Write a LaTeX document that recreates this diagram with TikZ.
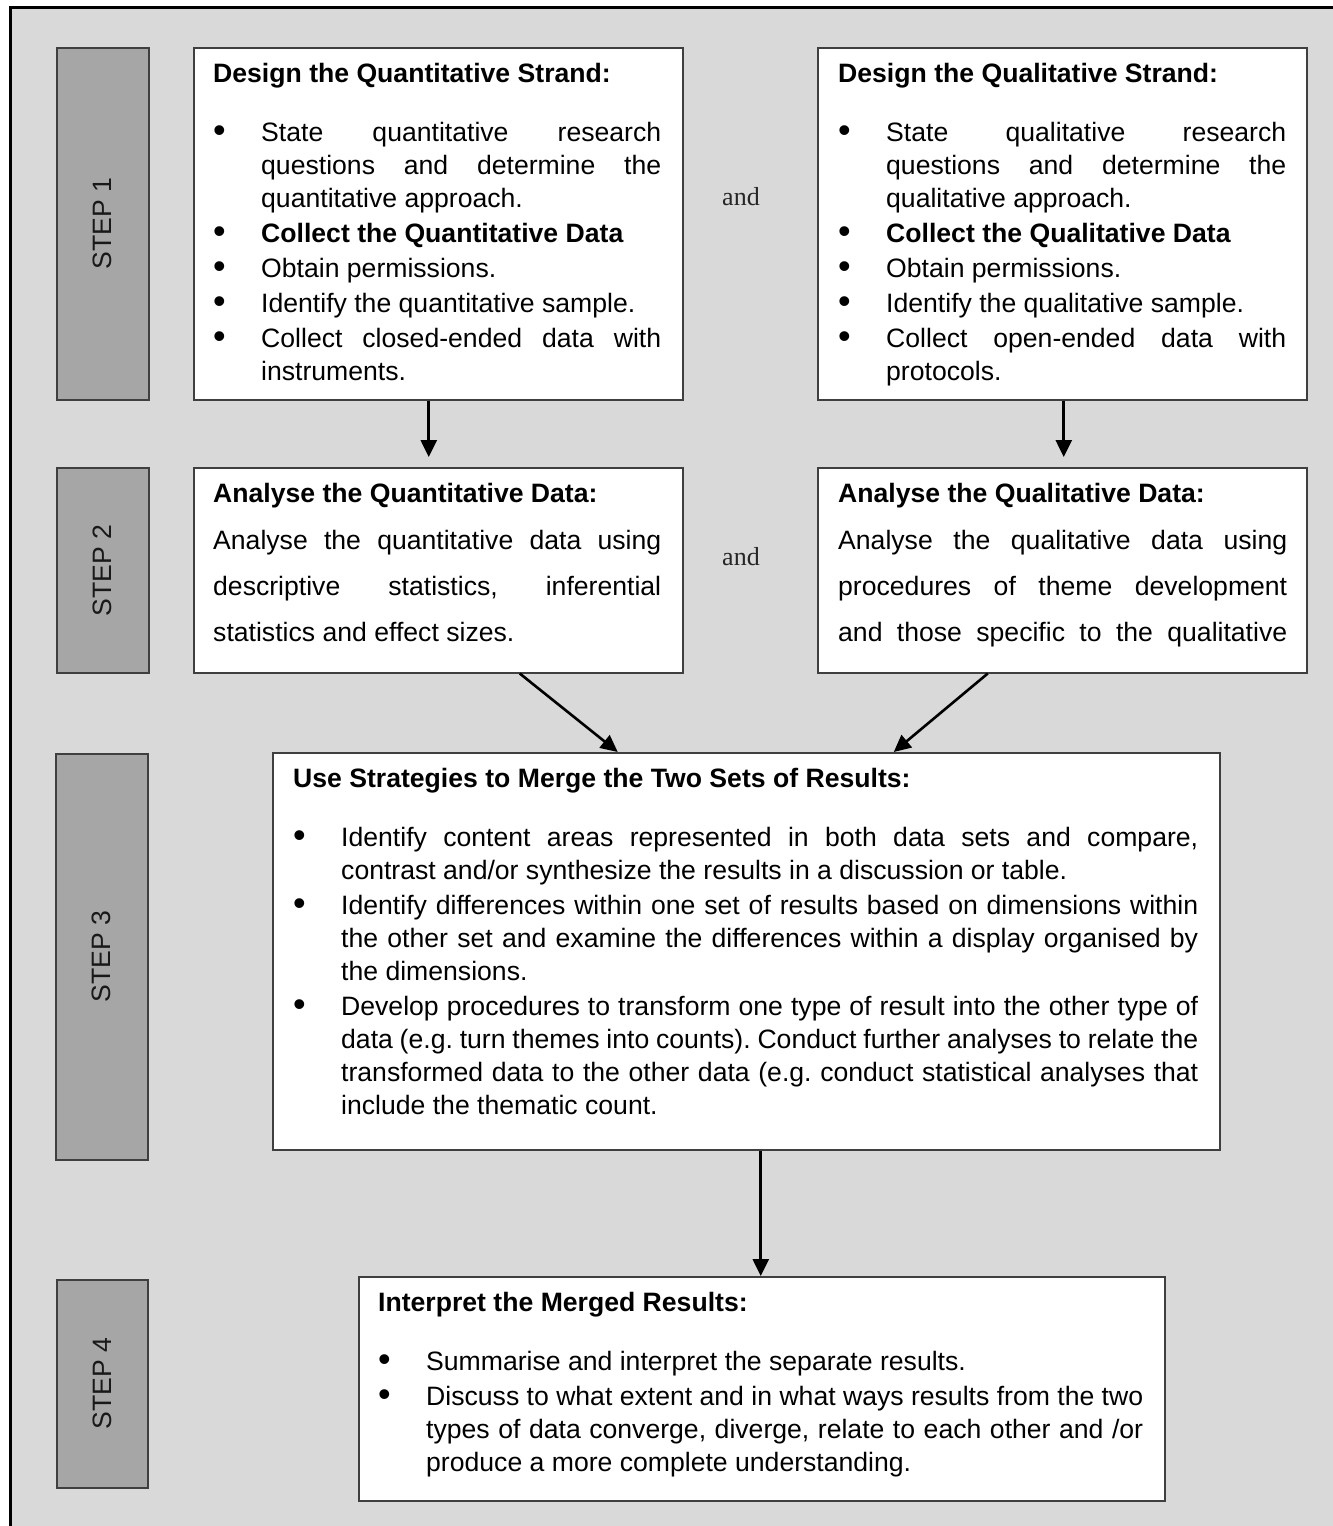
\documentclass[tikz,border=0pt]{standalone}
\usepackage{fontspec}
\usepackage{graphicx}
\setmainfont{Liberation Sans}
\newfontfamily\andfont{Liberation Serif}
\usetikzlibrary{arrows.meta,calc}
\definecolor{bg}{HTML}{D9D9D9}
\definecolor{stepfill}{HTML}{A6A6A6}
\definecolor{edge}{HTML}{3F3F3F}
\newcommand\bodysetup{\fontsize{26.6}{33}\selectfont\frenchspacing\tolerance=10000\hyphenpenalty=10000\exhyphenpenalty=10000\parskip=2pt\parindent=0pt\emergencystretch=0pt}
\newcommand\bitem[1]{\par\hangindent=48pt\hangafter=1\noindent\makebox[48pt][l]{\raisebox{-1pt}{\scalebox{1.35}{\textbullet}}}#1\par}
\tikzset{
 box/.style={draw=edge,line width=1.5pt,fill=white,inner sep=0pt,anchor=north west},
 stepbox/.style={draw=edge,line width=1.5pt,fill=stepfill,inner sep=0pt,anchor=north west},
 steplabel/.style={rotate=90,inner sep=0pt,font=\fontsize{26.6}{30}\selectfont,text=black!90},
 body/.style={anchor=base west,inner sep=0pt,align=justify},
 conn/.style={line width=2.6pt,-{Triangle[length=17pt,width=16pt]}},
 andlabel/.style={anchor=base,inner sep=0pt,font=\andfont\fontsize{26}{30}\selectfont,text=black!85}
}
\begin{document}
\begin{tikzpicture}[x=1pt,y=-1pt]
\useasboundingbox (0,0) rectangle (1333,1526);
\clip (0,0) rectangle (1333,1526);
\fill[bg] (10,7) rectangle (1345,1540);
\draw[line width=3pt] (10,1540) -- (10,7) -- (1345,7);

% step boxes
\node[stepbox,minimum width=92pt,minimum height=352pt] (s1) at (56,47) {};
\node[stepbox,minimum width=92pt,minimum height=205pt] (s2) at (56,467) {};
\node[stepbox,minimum width=92pt,minimum height=406pt] (s3) at (55,753) {};
\node[stepbox,minimum width=91pt,minimum height=208pt] (s4) at (56,1279) {};
\node[steplabel] (l1) at (s1.center) {STEP 1};
\node[steplabel] (l2) at (s2.center) {STEP 2};
\node[steplabel] (l3) at (s3.center) {STEP 3};
\node[steplabel] (l4) at (s4.center) {STEP 4};

% content boxes
\node[box,minimum width=489pt,minimum height=352pt] (q1) at (193,47) {};
\node[box,minimum width=489pt,minimum height=352pt] (q2) at (817,47) {};
\node[box,minimum width=489pt,minimum height=205pt] (a1) at (193,467) {};
\node[box,minimum width=489pt,minimum height=205pt] (a2) at (817,467) {};
\node[box,minimum width=947pt,minimum height=397pt] (m) at (272,752) {};
\node[box,minimum width=806pt,minimum height=224pt] (r) at (358,1276) {};

\node[body,text width=448pt] (q1t) at ($(q1.north west)+(20,35)$) {\bodysetup
\textbf{Design the Quantitative Strand:}\par\vspace{24pt}
\bitem{State quantitative research\linebreak questions and determine the\linebreak quantitative approach.}
\bitem{\textbf{Collect the Quantitative Data}}
\bitem{Obtain permissions.}
\bitem{Identify the quantitative sample.}
\bitem{Collect closed-ended data with\linebreak instruments.}};

\node[body,text width=448pt] (q2t) at ($(q2.north west)+(21,35)$) {\bodysetup
\textbf{Design the Qualitative Strand:}\par\vspace{24pt}
\bitem{State qualitative research\linebreak questions and determine the\linebreak qualitative approach.}
\bitem{\textbf{Collect the Qualitative Data}}
\bitem{Obtain permissions.}
\bitem{Identify the qualitative sample.}
\bitem{Collect open-ended data with\linebreak protocols.}};

\node[body,text width=448pt] (a1t) at ($(a1.north west)+(20,35)$) {\bodysetup
\textbf{Analyse the Quantitative Data:}\par
{\parskip=1pt\baselineskip=46pt Analyse the quantitative data using\linebreak descriptive statistics, inferential\linebreak statistics and effect sizes.\par}};

\node[body,text width=449pt] (a2t) at ($(a2.north west)+(21,35)$) {\bodysetup
\textbf{Analyse the Qualitative Data:}\par
{\parskip=1pt\baselineskip=46pt\parfillskip=0pt Analyse the qualitative data using\linebreak procedures of theme development\linebreak and those specific to the qualitative\par}};

\node[body,text width=905pt] (mt) at ($(m.north west)+(21,35)$) {\bodysetup
\textbf{Use Strategies to Merge the Two Sets of Results:}\par\vspace{24pt}
\bitem{Identify content areas represented in both data sets and compare,\linebreak contrast and/or synthesize the results in a discussion or table.}
\bitem{Identify differences within one set of results based on dimensions within\linebreak the other set and examine the differences within a display organised by\linebreak the dimensions.}
\bitem{Develop procedures to transform one type of result into the other type of\linebreak data (e.g. turn themes into counts). Conduct further analyses to relate the\linebreak transformed data to the other data (e.g. conduct statistical analyses that\linebreak include the thematic count.}};

\node[body,text width=765pt] (rt) at ($(r.north west)+(20,35)$) {\bodysetup
\textbf{Interpret the Merged Results:}\par\vspace{24pt}
\bitem{Summarise and interpret the separate results.}
\bitem{Discuss to what extent and in what ways results from the two\linebreak types of data converge, diverge, relate to each other and /or\linebreak produce a more complete understanding.}};

% and labels
\node[andlabel] (and1) at (741,205) {and};
\node[andlabel] (and2) at (741,565) {and};

% connectors
\draw[conn,shorten >=10pt] ([xshift=-9.5pt]q1.south) -- ([xshift=-9.5pt]a1.north);
\draw[conn,shorten >=10pt] ([xshift=1.5pt]q2.south) -- ([xshift=1.5pt]a2.north);
\draw[conn] ([xshift=81.5pt]a1.south) -- ([xshift=-128.5pt]m.north);
\draw[conn] ([xshift=-74.5pt]a2.south) -- ([xshift=147.5pt]m.north);
\draw[conn] ([xshift=14.5pt]m.south) -- ([xshift=-1pt]r.north);
\end{tikzpicture}
\end{document}
